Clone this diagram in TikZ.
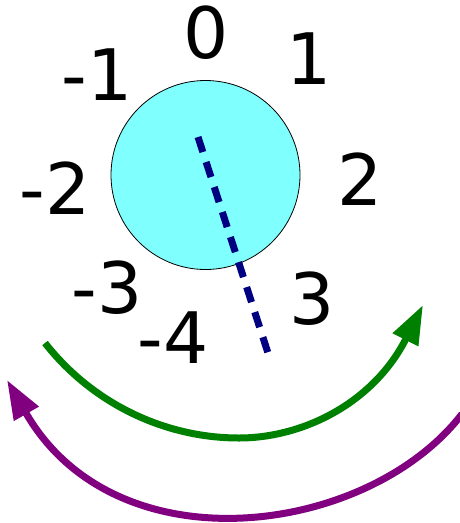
\documentclass[tikz,border=0pt]{standalone}
\usepackage{fontspec}
\setmainfont{DejaVu Sans}
\usetikzlibrary{arrows.meta}
\definecolor{discfill}{HTML}{80FFFF}
\definecolor{dnavy}{HTML}{000080}
\definecolor{dgreen}{HTML}{008000}
\definecolor{dpurple}{HTML}{800080}
\begin{document}
\begin{tikzpicture}[x=1pt,y=-1pt,
  lbl/.style={inner sep=0pt, font=\fontsize{71}{80}\selectfont},
  arc/.style={line width=7pt, -{Triangle[length=39pt,width=27pt]}}]
\useasboundingbox (0,0) rectangle (460,523);
\clip (0,0) rectangle (460,523);
\node[circle, draw=black, line width=0.8pt, fill=discfill, minimum size=189pt, inner sep=0pt] (disc) at (205.5,175) {};
\coordinate (d1) at (198,137);
\coordinate (d2) at (268,353);
\draw[dnavy, line width=7pt, dash pattern=on 15.8pt off 10.5pt] (d1) -- (d2);
\node[lbl] (n0) at (206,33) {0};
\node[lbl] (p1) at (309,59) {1};
\node[lbl] (m1) at (97,75) {-1};
\node[lbl] (p2) at (360,179) {2};
\node[lbl] (m2) at (55,188) {-2};
\node[lbl] (p3) at (312,299) {3};
\node[lbl] (m3) at (107,288) {-3};
\node[lbl] (m4) at (173,338) {-4};
\coordinate (gs) at (45,343);
\coordinate (gm) at (239,438);
\coordinate (ge) at (423,305);
\draw[arc, dgreen] (gs) .. controls (92,403) and (164,438) .. (gm)
  .. controls (303,438) and (373.5,403) .. (ge);
\coordinate (ps) at (462,414);
\coordinate (pe) at (7,380);
\draw[arc, dpurple] (ps) .. controls (368,536) and (116,570) .. (pe);
\end{tikzpicture}
\end{document}
